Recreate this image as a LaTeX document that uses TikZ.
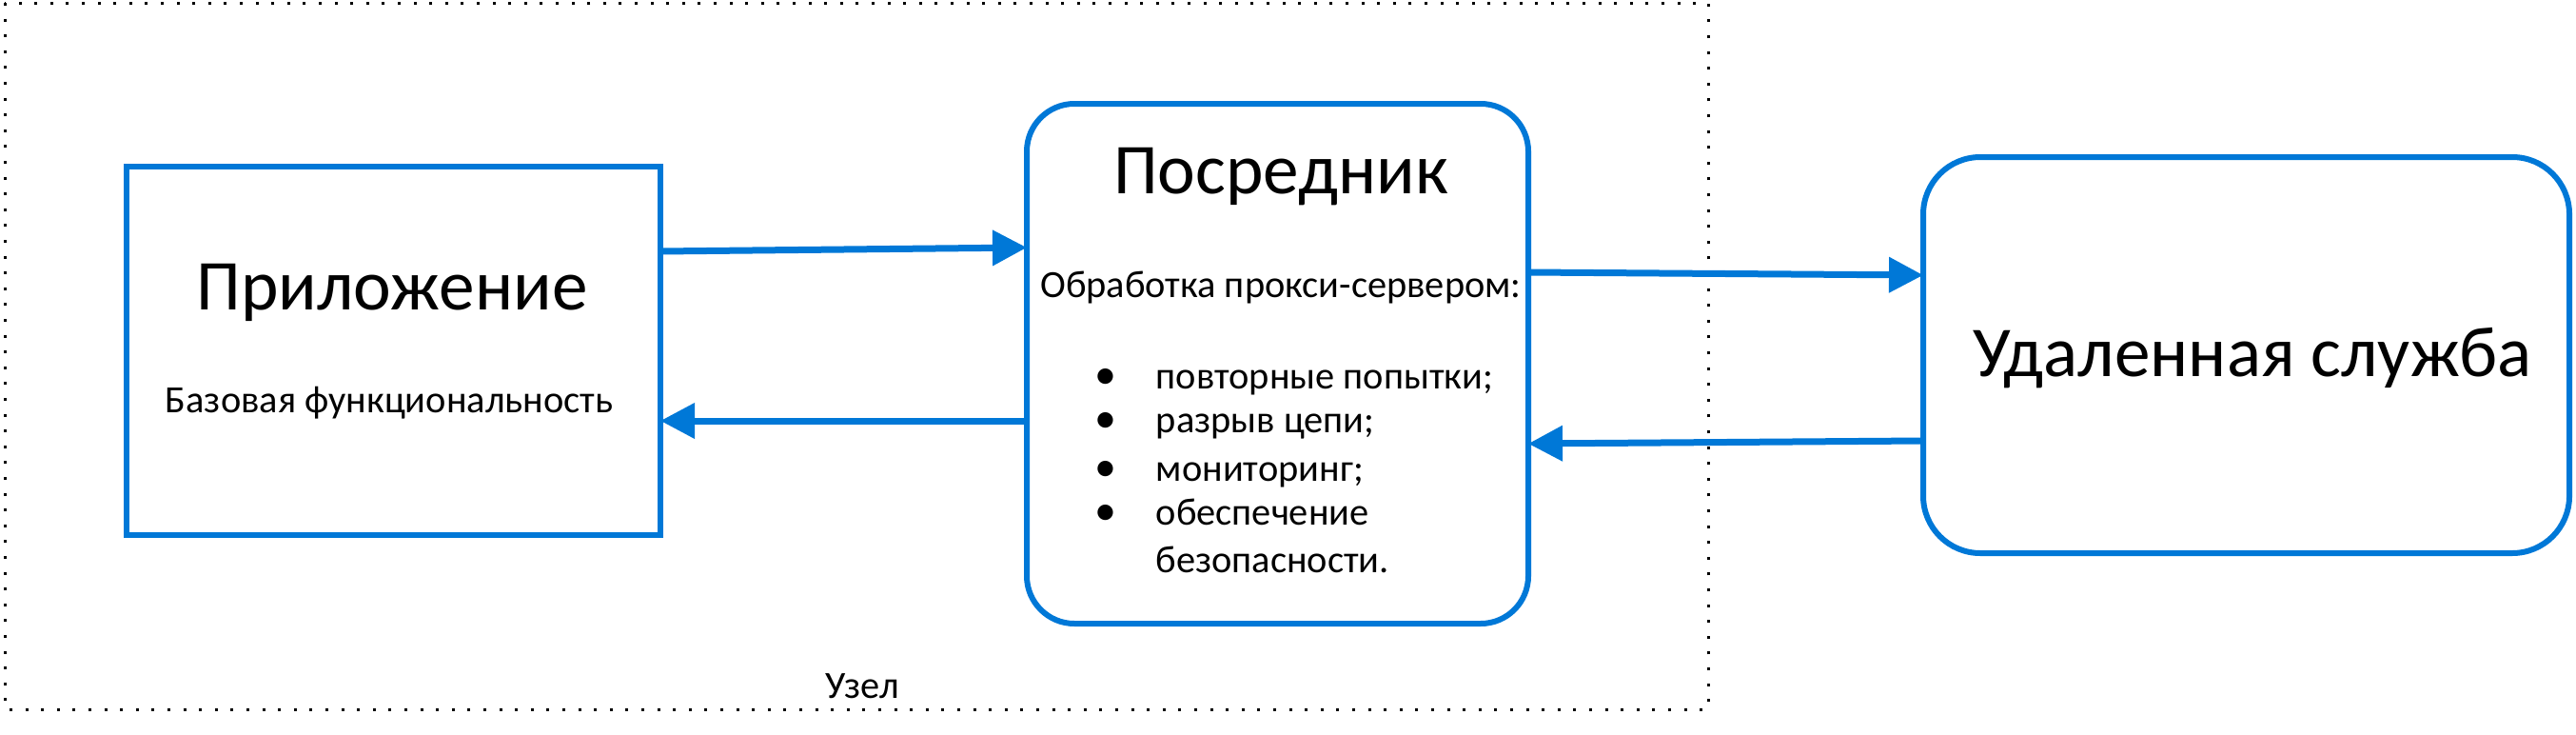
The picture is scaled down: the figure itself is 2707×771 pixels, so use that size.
\documentclass[tikz,border=0pt]{standalone}
\usepackage{fontspec}
\setmainfont{Carlito}
\usetikzlibrary{arrows.meta,calc}
\definecolor{msblue}{RGB}{0,120,215}
\begin{document}
\begin{tikzpicture}[x=0.25pt,y=-0.25pt,
  box/.style={draw=msblue, line width=1.5pt, inner sep=0pt, outer sep=0pt, fill=white},
  arr/.style={draw=msblue, line width=1.75pt, -{Triangle[length=9pt,width=9pt]}},
  big/.style={font=\fontsize{18.8}{22}\selectfont, inner sep=0pt},
  small/.style={font=\fontsize{10.1}{12}\selectfont, inner sep=0pt},
  nodeframe/.style={draw=black, line width=0.75pt, dash pattern=on 0.75pt off 3.4pt}]
\useasboundingbox (0,0) rectangle (2707,771);
\draw[nodeframe] (5,3) rectangle (1795,745);
\node[box, minimum width=140.25pt, minimum height=96.75pt] (app) at (413.5,368.5) {};
\node[box, rounded corners=12.5pt, minimum width=131.75pt, minimum height=136.5pt] (prox) at (1342.5,382) {};
\node[box, rounded corners=15pt, minimum width=169.75pt, minimum height=104pt] (rem) at (2360.5,373) {};
\node[big, anchor=base] (apptitle) at (412,325) {Приложение};
\node[small, anchor=base] (appsub) at (409,433) {Базовая функциональность};
\node[big, anchor=base] (proxtitle) at (1346,203) {Посредник};
\node[small, anchor=base] (proxsub) at (1346,312) {Обработка прокси-сервером:};
\foreach \y/\t [count=\i] in {408/{повторные попытки;},454/{разрыв цепи;},505/{мониторинг;},551/{обеспечение}} {
  \node[small, anchor=base] (b\i) at (1162,\y) {\fontsize{11.5}{12}\selectfont •};
  \node[small, anchor=base west] (l\i) at (1214,\y) {\t};
}
\node[small, anchor=base west] (l5) at (1214,601) {безопасности.};
\node[big, anchor=base] (remtitle) at (2367,395) {Удаленная служба};
\node[small, anchor=base] (uzel) at (906,733) {Узел};
\draw[arr] ($(app.east)+(0,-104.5)$) -- ($(prox.west)+(0,-122)$);
\draw[arr] ($(prox.west)+(0,60)$) -- ($(app.east)+(0,73.5)$);
\draw[arr] ($(prox.east)+(0,-96)$) -- ($(rem.west)+(0,-84)$);
\draw[arr] ($(rem.west)+(0,90)$) -- ($(prox.east)+(0,84)$);
\end{tikzpicture}
\end{document}
